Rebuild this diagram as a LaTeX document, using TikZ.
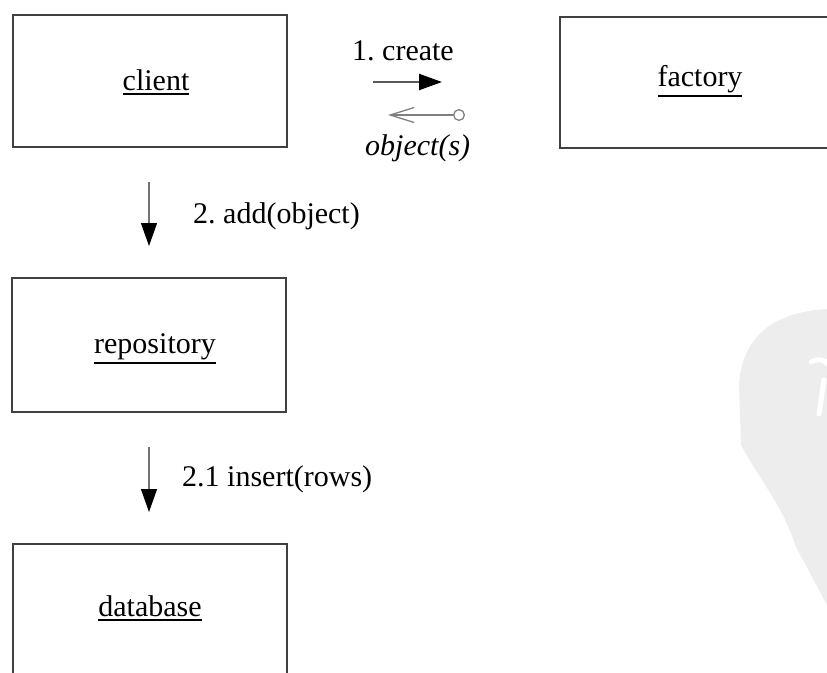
\documentclass[tikz,border=0pt]{standalone}
\usepackage{fontspec}
\setmainfont{Liberation Serif}
\usetikzlibrary{arrows.meta}
\frenchspacing
\newcommand\ulbl[1]{\setbox0\hbox{#1}\rlap{\rule[\dimexpr-\dp0-4.5pt\relax]{\wd0}{2pt}}\box0}
\begin{document}
\begin{tikzpicture}[x=1pt,y=-1pt,
  objbox/.style={draw=black!75,line width=1.3pt,inner sep=0pt},
  objlbl/.style={anchor=base,inner sep=0pt,font=\fontsize{30}{36}\selectfont},
  msglbl/.style={anchor=base west,inner sep=0pt,font=\fontsize{30}{36}\selectfont},
  callarrow/.style={draw=black!55,line width=1.2pt,-{Triangle[length=23pt,width=16pt,fill=black,color=black]}},
  createarrow/.style={callarrow,draw=black!65,line width=2.2pt},
  retarrow/.style={draw=black!50,line width=1.2pt,{Straight Barb[length=24pt,width=15pt,line width=1.3pt]}-{Circle[open,length=12pt,width=12pt,line width=1.3pt]}}
]
\useasboundingbox (0,0) rectangle (827,672);
\clip (0,0) rectangle (827,672);
% watermark
\fill[black!7] (827,309) .. controls (775,312) and (742,335) .. (739,385)
  -- (741,445) .. controls (760,480) and (785,510) .. (795,545) -- (827,605) -- cycle;
\draw[white,line width=5pt,line cap=round] (811,362) .. controls (818,358) and (826,360) .. (827,364);
\draw[white,line width=5pt,line cap=round] (824,380) -- (819,414);
% boxes
\node[objbox,minimum width=274pt,minimum height=132pt] (client) at (150,81) {};
\node[objlbl] (clientlbl) at (156,90) {\ulbl{client}};
\node[objbox,minimum width=290pt,minimum height=131pt] (factory) at (705,82.5) {};
\node[objlbl] (factorylbl) at (700,86) {\ulbl{factory}};
\node[objbox,minimum width=274pt,minimum height=134pt] (repo) at (149,345) {};
\node[objlbl] (repolbl) at (155,353) {\ulbl{repository}};
\node[objbox,minimum width=274pt,minimum height=156pt] (db) at (150,622) {};
\node[objlbl] (dblbl) at (150,616) {\ulbl{database}};
% messages
\coordinate (c1s) at (373,82);
\coordinate (c1e) at (442,82);
\draw[createarrow] (c1s) -- (c1e);
\node[msglbl] (createlbl) at (352,60) {1. create};
\coordinate (r1s) at (388,115);
\coordinate (r1e) at (465,115);
\draw[retarrow] (r1s) -- (r1e);
\node[msglbl] (objlbl) at (365,155) {\itshape object(s)};
\coordinate (a1s) at (149,182);
\coordinate (a1e) at (149,246);
\draw[callarrow] (a1s) -- (a1e);
\node[msglbl] (addlbl) at (193,223) {2. add(object)};
\coordinate (i1s) at (149,447);
\coordinate (i1e) at (149,512);
\draw[callarrow] (i1s) -- (i1e);
\node[msglbl] (inslbl) at (182,486) {2.1 insert(rows)};
\end{tikzpicture}
\end{document}
